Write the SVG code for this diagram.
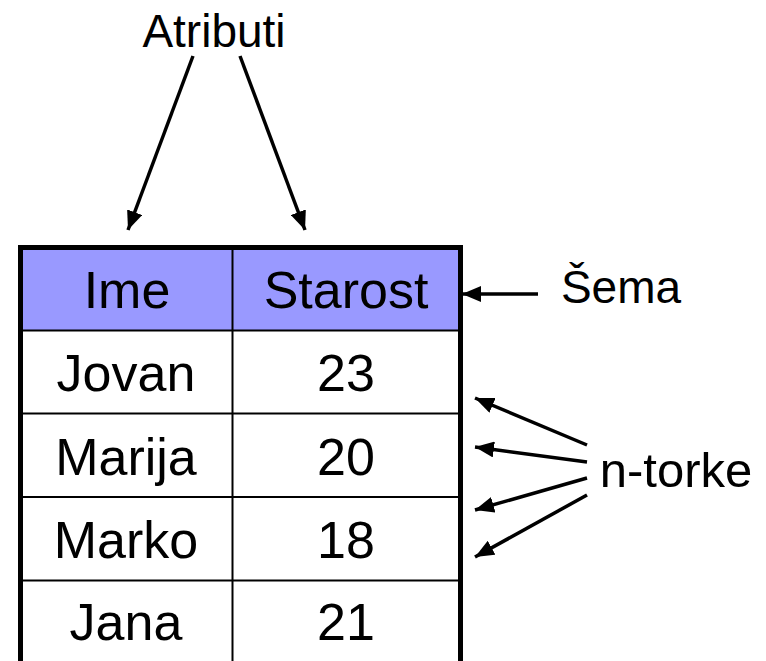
<svg xmlns="http://www.w3.org/2000/svg" width="766" height="661" viewBox="0 0 766 661">
<style>
text{font-family:"Liberation Sans",Arial,sans-serif;fill:#000;text-anchor:middle}
.cell{font-size:52px}
.lbl{font-size:46px}
.big{font-size:49px}
.grid{stroke:#000;stroke-width:2;fill:none}
.conn{stroke:#000;stroke-width:3.5;fill:none;marker-end:url(#ah)}
</style>
<defs>
<marker id="ah" markerUnits="userSpaceOnUse" markerWidth="20" markerHeight="16" refX="19" refY="8" orient="auto">
<path d="M0,0 L19,8 L0,16 Z" fill="#000"/>
</marker>
</defs>
<rect width="766" height="661" fill="#fff"/>
<g id="table">
<rect x="20.5" y="247.5" width="440" height="420" fill="#fff"/>
<rect x="20.5" y="247.5" width="440" height="83" fill="#9999ff"/>
<line class="grid" x1="232.5" y1="247.5" x2="232.5" y2="661"/>
<line class="grid" x1="20.5" y1="330.5" x2="460.5" y2="330.5"/>
<line class="grid" x1="20.5" y1="413.5" x2="460.5" y2="413.5"/>
<line class="grid" x1="20.5" y1="497" x2="460.5" y2="497"/>
<line class="grid" x1="20.5" y1="580.5" x2="460.5" y2="580.5"/>
<rect x="20.5" y="247.5" width="440" height="430" fill="none" stroke="#000" stroke-width="5"/>
</g>
<g id="header">
<text class="cell" x="127" y="308">Ime</text>
<text class="cell" x="346" y="308">Starost</text>
</g>
<g id="row1"><text class="cell" x="126" y="391">Jovan</text><text class="cell" x="346" y="391">23</text></g>
<g id="row2"><text class="cell" x="126" y="475">Marija</text><text class="cell" x="346" y="475">20</text></g>
<g id="row3"><text class="cell" x="126" y="558">Marko</text><text class="cell" x="346" y="558">18</text></g>
<g id="row4"><text class="cell" x="126" y="640">Jana</text><text class="cell" x="346" y="640">21</text></g>
<g id="atributi"><text class="lbl" x="214" y="47">Atributi</text></g>
<g id="sema"><text class="lbl" x="621" y="303">Šema</text></g>
<g id="ntorke"><text class="big" x="676" y="487">n-torke</text></g>
<g id="connectors">
<line class="conn" x1="193" y1="56" x2="128" y2="230"/>
<line class="conn" x1="240" y1="56" x2="305" y2="230"/>
<line class="conn" x1="538" y1="294" x2="462" y2="294"/>
<line class="conn" x1="587" y1="445" x2="475" y2="398"/>
<line class="conn" x1="587" y1="462" x2="475" y2="447"/>
<line class="conn" x1="587" y1="478" x2="475" y2="510"/>
<line class="conn" x1="587" y1="495" x2="475" y2="557"/>
</g>
</svg>
